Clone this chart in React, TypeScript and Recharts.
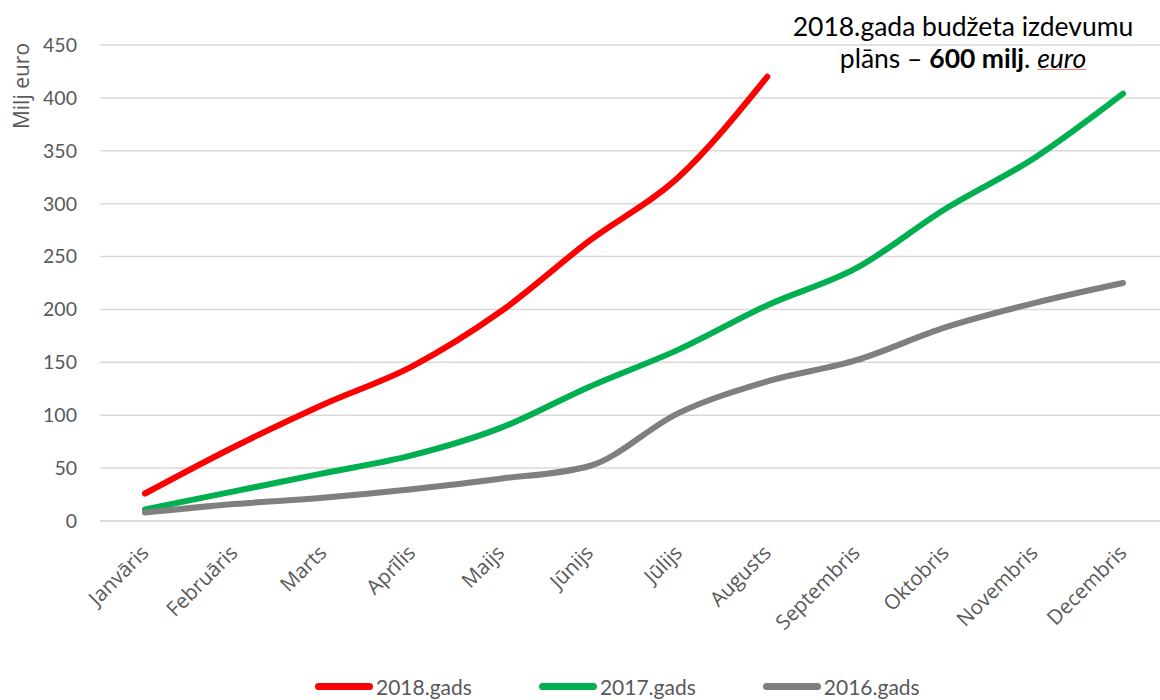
import React from 'react';
import { LineChart, Line, XAxis, YAxis, CartesianGrid } from 'recharts';

const months = [
  'Janvāris', 'Februāris', 'Marts', 'Aprīlis', 'Maijs', 'Jūnijs',
  'Jūlijs', 'Augusts', 'Septembris', 'Oktobris', 'Novembris', 'Decembris',
];
const y2018 = [26, 70, 110, 146, 198, 265, 325, 420, null, null, null, null];
const y2017 = [11, 28, 45, 62, 88, 127, 162, 204, 239, 295, 343, 404];
const y2016 = [8, 16, 22, 30, 40, 52, 102, 132, 152, 183, 206, 225];
const yTicks = [0, 50, 100, 150, 200, 250, 300, 350, 400, 450];

const series = [
  { key: 'y2018', name: '2018.gads', color: '#FF0000' },
  { key: 'y2017', name: '2017.gads', color: '#00B050' },
  { key: 'y2016', name: '2016.gads', color: '#7F7F7F' },
];

const data = months.map((m, i) => ({
  month: m,
  y2018: y2018[i],
  y2017: y2017[i],
  y2016: y2016[i],
}));

const MonthTick = (props: any) => {
  const { x, y, payload } = props;
  const tx = x + 5;
  const ty = y + 25;
  return (
    <text
      x={tx}
      y={ty}
      transform={`rotate(-45, ${tx}, ${ty})`}
      textAnchor="end"
      fill="#595959"
      style={{ fontSize: 20.5, fontFamily: "'Open Sans', sans-serif" }}
    >
      {payload.value}
    </text>
  );
};

const App: React.FC = () => {
  return (
    <div
      style={{
        position: 'absolute',
        left: 0,
        top: 0,
        width: 1160,
        height: 700,
        overflow: 'hidden',
        background: '#fff',
        fontFamily: 'Lato, sans-serif',
      }}
    >
      <LineChart
        width={1168}
        height={700}
        data={data}
        margin={{ top: 45, right: 0, bottom: 0, left: 0 }}
      >
        <CartesianGrid vertical={false} stroke="#D9D9D9" strokeWidth={1.5} />
        <XAxis
          dataKey="month"
          height={179}
          interval={0}
          padding={{ left: 45, right: 45 }}
          tickLine={false}
          axisLine={{ stroke: '#D9D9D9', strokeWidth: 1.5 }}
          tick={<MonthTick />}
        />
        <YAxis
          width={100}
          domain={[0, 450]}
          ticks={yTicks}
          tickLine={false}
          axisLine={false}
          tickSize={0}
          tickMargin={23}
          tick={{ fill: '#595959', fontSize: 19.5, fontFamily: 'Lato, sans-serif' }}
        />
        {series.map((s) => (
          <Line
            key={s.key}
            type="monotone"
            dataKey={s.key}
            name={s.name}
            stroke={s.color}
            strokeWidth={6}
            strokeLinecap="round"
            dot={false}
            activeDot={false}
            connectNulls={false}
            isAnimationActive={false}
          />
        ))}
      </LineChart>

      <div
        style={{
          position: 'absolute',
          left: 21,
          top: 86,
          transform: 'translate(-50%, -50%) rotate(-90deg)',
          color: '#595959',
          fontSize: 21,
          fontFamily: "'Open Sans', sans-serif",
          whiteSpace: 'nowrap',
        }}
      >
        Milj euro
      </div>

      <div
        style={{
          position: 'absolute',
          left: 763,
          top: 10,
          width: 400,
          textAlign: 'center',
          fontSize: 26.5,
          lineHeight: '32px',
          color: '#000',
        }}
      >
        2018.gada budžeta izdevumu
        <br />
        plāns – <b>600 milj</b>.{' '}
        <i style={{ textDecoration: 'underline #F08080', textDecorationThickness: 1 }}>euro</i>
      </div>

      <div
        style={{
          position: 'absolute',
          left: 315,
          top: 674,
          display: 'flex',
          gap: 67,
          color: '#595959',
          fontSize: 21,
        }}
      >
        {series.map((s) => (
          <div key={s.key} style={{ display: 'flex', alignItems: 'center' }}>
            <span
              style={{
                display: 'inline-block',
                width: 58,
                height: 7,
                borderRadius: 4,
                background: s.color,
                marginRight: 3,
              }}
            />
            {s.name}
          </div>
        ))}
      </div>
    </div>
  );
};

export default App;
